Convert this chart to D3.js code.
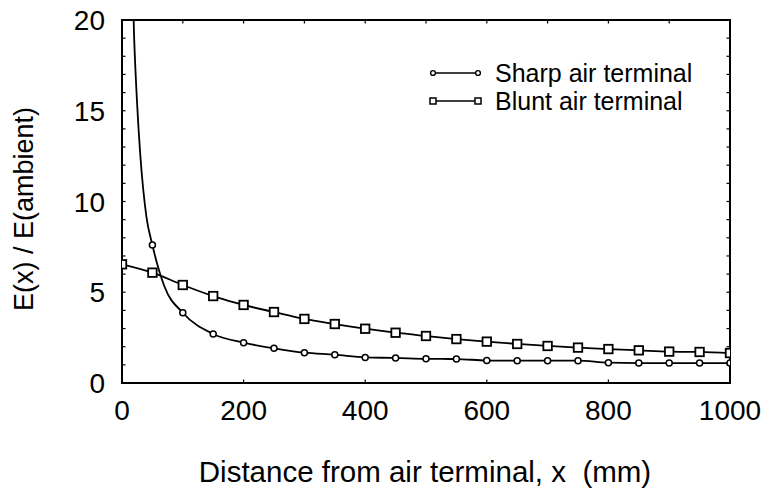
<!DOCTYPE html>
<html><head><meta charset="utf-8">
<script src="https://cdn.jsdelivr.net/npm/d3@7"></script>
<style>html,body{margin:0;padding:0;background:#fff}svg{display:block}</style>
</head><body>
<script>
// Data
const sharpX = [15, 20, 25, 30, 40, 50, 70, 100, 150, 200, 250, 300, 350, 400, 450, 500, 550, 600, 650, 700, 750, 800, 850, 900, 950, 1000];
const sharpY = [25, 19, 15.3, 12.6, 9.2, 7.6, 5.3, 3.87, 2.7, 2.22, 1.91, 1.67, 1.56, 1.41, 1.38, 1.33, 1.32, 1.24, 1.23, 1.23, 1.23, 1.12, 1.1, 1.1, 1.1, 1.1];
const bluntX = [0, 50, 100, 150, 200, 250, 300, 350, 400, 450, 500, 550, 600, 650, 700, 750, 800, 850, 900, 950, 1000];
const bluntY = [6.54, 6.08, 5.4, 4.79, 4.3, 3.91, 3.53, 3.25, 2.99, 2.77, 2.59, 2.42, 2.28, 2.15, 2.04, 1.95, 1.87, 1.8, 1.73, 1.71, 1.65];
const xTickLabels = [0, 200, 400, 600, 800, 1000];
const yTickLabels = [0, 5, 10, 15, 20];
const seriesNames = ["Sharp air terminal", "Blunt air terminal"];

const W = 764, H = 488;
const L = 122, R = 730, T = 20, B = 383;
const font = "'Liberation Sans', Arial, sans-serif";

const svg = d3.select("body").append("svg").attr("width", W).attr("height", H);
const x = d3.scaleLinear().domain([0, 1000]).range([L, R]);
const y = d3.scaleLinear().domain([0, 20]).range([B, T]);

svg.append("defs").append("clipPath").attr("id", "clip")
  .append("rect").attr("x", L).attr("y", T).attr("width", R - L).attr("height", B - T);

// ticks (inward)
const tk = 3.5;
const g = svg.append("g").attr("stroke", "#000").attr("stroke-width", 1.2);
d3.range(0, 1001, 200).forEach(v => {
  g.append("line").attr("x1", x(v)).attr("x2", x(v)).attr("y1", B).attr("y2", B - tk);
});
d3.range(0, 1001, 100).forEach(v => {
  g.append("line").attr("x1", x(v)).attr("x2", x(v)).attr("y1", T).attr("y2", T + tk);
});
d3.range(0, 21, 1).forEach(v => {
  g.append("line").attr("x1", L).attr("x2", L + tk).attr("y1", y(v)).attr("y2", y(v));
  g.append("line").attr("x1", R).attr("x2", R - tk).attr("y1", y(v)).attr("y2", y(v));
});

// frame
svg.append("rect").attr("x", L).attr("y", T).attr("width", R - L).attr("height", B - T)
  .attr("fill", "none").attr("stroke", "#000").attr("stroke-width", 2);

// tick labels
svg.append("g").selectAll("text").data(xTickLabels).join("text")
  .attr("x", d => x(d)).attr("y", B + 37).attr("text-anchor", "middle")
  .attr("font-family", font).attr("font-size", 28).text(d => d);
svg.append("g").selectAll("text").data(yTickLabels).join("text")
  .attr("x", L - 17).attr("y", d => y(d)).attr("dy", "0.36em").attr("text-anchor", "end")
  .attr("font-family", font).attr("font-size", 28).text(d => d);

// axis titles
svg.append("text").attr("x", (L + R) / 2 - 1).attr("y", 482).attr("text-anchor", "middle")
  .attr("font-family", font).attr("font-size", 29.5).text("Distance from air terminal, x\u00a0\u00a0(mm)");
svg.append("text").attr("transform", "translate(33,209) rotate(-90)").attr("text-anchor", "middle")
  .attr("font-family", font).attr("font-size", 27).text("E(x) / E(ambient)");

// series
const plot = svg.append("g").attr("clip-path", "url(#clip)");
const line = d3.line().x(d => x(d[0])).y(d => y(d[1])).curve(d3.curveMonotoneX);
const sharp = sharpX.map((v, i) => [v, sharpY[i]]);
const blunt = bluntX.map((v, i) => [v, bluntY[i]]);

plot.append("path").datum(sharp).attr("d", line).attr("fill", "none").attr("stroke", "#000").attr("stroke-width", 1.8);
plot.append("path").datum(blunt).attr("d", line).attr("fill", "none").attr("stroke", "#000").attr("stroke-width", 1.8);

plot.selectAll("circle.s").data(sharp.filter(d => d[0] % 50 === 0)).join("circle")
  .attr("class", "s").attr("cx", d => x(d[0])).attr("cy", d => y(d[1])).attr("r", 3)
  .attr("fill", "#fff").attr("stroke", "#000").attr("stroke-width", 1.5);
const sq = 8.5;
plot.selectAll("rect.b").data(blunt).join("rect")
  .attr("class", "b").attr("x", d => x(d[0]) - sq / 2).attr("y", d => y(d[1]) - sq / 2)
  .attr("width", sq).attr("height", sq)
  .attr("fill", "#fff").attr("stroke", "#000").attr("stroke-width", 1.8);

// legend
const lx1 = 433, lx2 = 478, ly = [73, 101];
const lg = svg.append("g");
seriesNames.forEach((name, i) => {
  lg.append("line").attr("x1", lx1).attr("x2", lx2).attr("y1", ly[i]).attr("y2", ly[i])
    .attr("stroke", "#000").attr("stroke-width", 1.5);
  [lx1, lx2].forEach(px => {
    if (i === 0) {
      lg.append("circle").attr("cx", px).attr("cy", ly[i]).attr("r", 2.4)
        .attr("fill", "#fff").attr("stroke", "#000").attr("stroke-width", 1.4);
    } else {
      lg.append("rect").attr("x", px - 3).attr("y", ly[i] - 3).attr("width", 6).attr("height", 6)
        .attr("fill", "#fff").attr("stroke", "#000").attr("stroke-width", 1.5);
    }
  });
  lg.append("text").attr("x", 495).attr("y", ly[i]).attr("dy", "0.36em")
    .attr("font-family", font).attr("font-size", 25).text(name);
});
</script>
</body></html>
